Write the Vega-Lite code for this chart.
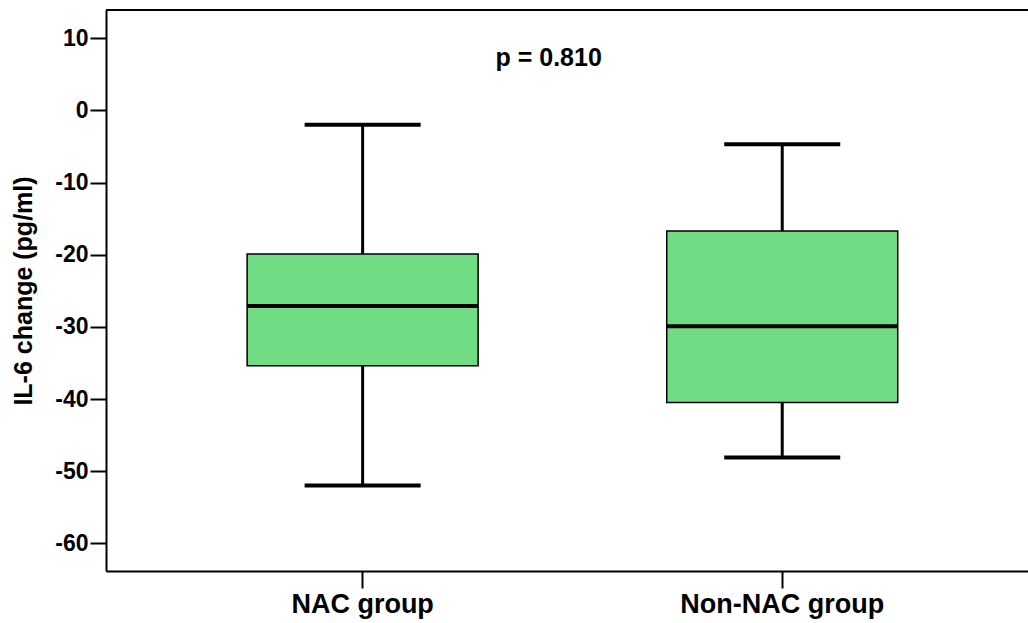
{
  "$schema": "https://vega.github.io/schema/vega-lite/v6.json",
  "width": 922,
  "height": 561,
  "autosize": "none",
  "padding": {"left": 106, "top": 10, "right": 0, "bottom": 52},
  "background": "white",
  "config": {"view": {"stroke": null}, "font": "Liberation Sans"},
  "data": {
    "values": [
      {"group": "NAC group", "min": -52, "q1": -35.4, "median": -27.1, "q3": -19.9, "max": -2},
      {"group": "Non-NAC group", "min": -48.1, "q1": -40.5, "median": -29.9, "q3": -16.7, "max": -4.7}
    ]
  },
  "layer": [
    {
      "mark": {"type": "rule", "color": "black", "strokeWidth": 3},
      "encoding": {
        "x": {
          "field": "group",
          "type": "nominal",
          "sort": null,
          "scale": {"paddingInner": 0.4495, "paddingOuter": 0.3234, "align": 0.52},
          "axis": {
            "title": null,
            "labelAngle": 0,
            "labelFontSize": 27,
            "labelFontWeight": "bold",
            "labelColor": "black",
            "labelPadding": 3,
            "labelLimit": 500,
            "domainColor": "black",
            "domainWidth": 2,
            "tickColor": "black",
            "tickWidth": 2,
            "tickSize": 17
          }
        },
        "y": {
          "field": "min",
          "type": "quantitative",
          "scale": {"domain": [-63.84, 13.92], "nice": false, "zero": false},
          "axis": {
            "values": [-60, -50, -40, -30, -20, -10, 0, 10],
            "labelExpr": "toString(datum.value)",
            "title": "IL-6 change (pg/ml)",
            "titleFontSize": 25,
            "titleFontWeight": "bold",
            "titleColor": "black",
            "titleX": -83,
            "titleBaseline": "middle",
            "titleAlign": "center",
            "labelFontSize": 23,
            "labelFontWeight": "bold",
            "labelColor": "black",
            "labelPadding": 2,
            "domainColor": "black",
            "domainWidth": 2,
            "tickColor": "black",
            "tickWidth": 2,
            "tickSize": 16,
            "grid": false
          }
        },
        "y2": {"field": "max"}
      }
    },
    {
      "mark": {"type": "rule", "color": "black", "strokeWidth": 2},
      "encoding": {"y": {"datum": 13.92, "type": "quantitative"}}
    },
    {
      "mark": {"type": "tick", "color": "black", "thickness": 4, "size": 116, "opacity": 1},
      "encoding": {
        "x": {"field": "group", "type": "nominal", "sort": null},
        "y": {"field": "min", "type": "quantitative"}
      }
    },
    {
      "mark": {"type": "tick", "color": "black", "thickness": 4, "size": 116, "opacity": 1},
      "encoding": {
        "x": {"field": "group", "type": "nominal", "sort": null},
        "y": {"field": "max", "type": "quantitative"}
      }
    },
    {
      "mark": {"type": "bar", "fill": "#70dc84", "stroke": "black", "strokeWidth": 1.5},
      "encoding": {
        "x": {"field": "group", "type": "nominal", "sort": null},
        "y": {"field": "q1", "type": "quantitative"},
        "y2": {"field": "q3"}
      }
    },
    {
      "mark": {"type": "tick", "color": "black", "thickness": 4, "opacity": 1},
      "encoding": {
        "x": {"field": "group", "type": "nominal", "sort": null},
        "y": {"field": "median", "type": "quantitative"}
      }
    },
    {
      "data": {"values": [{"group": "NAC group", "label": "p = 0.810", "pos": 7.2}]},
      "mark": {"type": "text", "fontSize": 25, "fontWeight": "bold", "color": "black", "dx": 186, "baseline": "middle", "align": "center"},
      "encoding": {
        "x": {"field": "group", "type": "nominal", "sort": null},
        "y": {"field": "pos", "type": "quantitative"},
        "text": {"field": "label"}
      }
    }
  ]
}
